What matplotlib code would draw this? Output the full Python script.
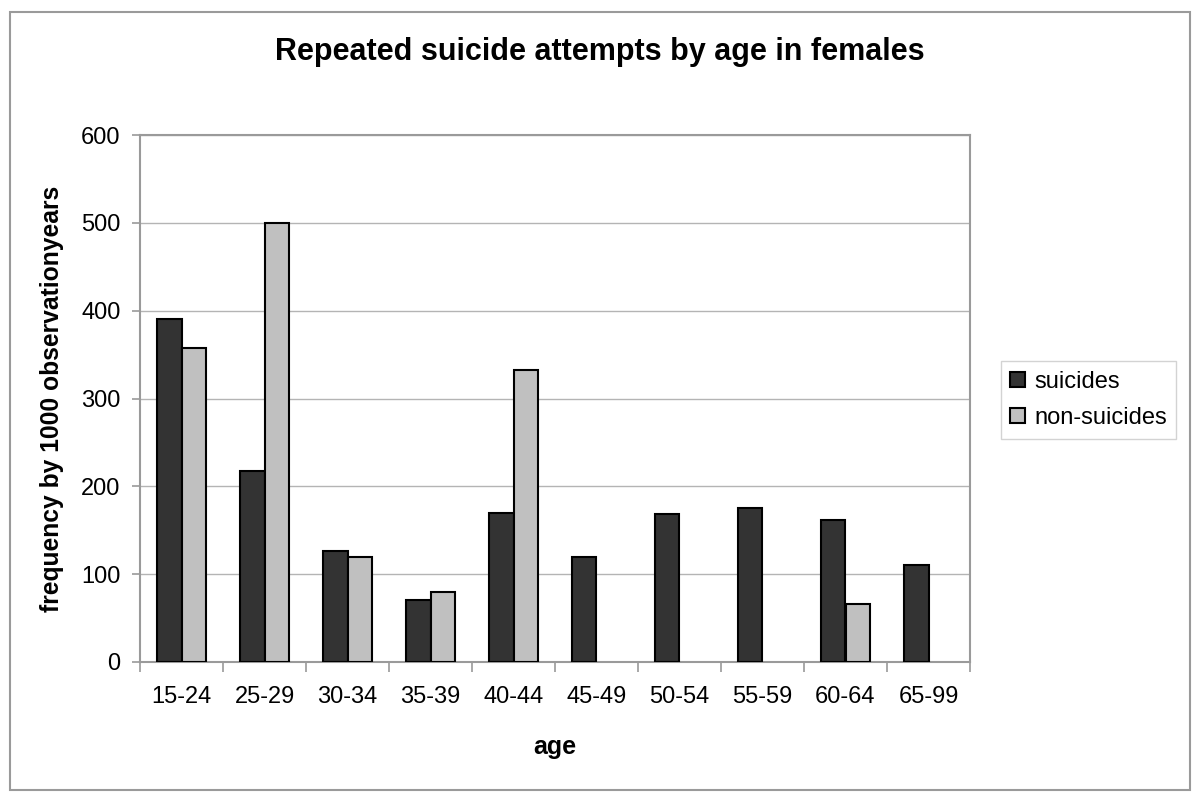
import numpy as np
import matplotlib.pyplot as plt
from matplotlib.patches import Rectangle

plt.rcParams["font.family"] = ["Liberation Sans", "DejaVu Sans"]

# Dados
faixas = ["15-24", "25-29", "30-34", "35-39", "40-44",
          "45-49", "50-54", "55-59", "60-64", "65-99"]
suicidas = [390, 218, 126, 71, 170, 119, 168, 175, 162, 110]
nao_suicidas = [358, 500, 120, 80, 333, 0, 0, 0, 66, 0]

cor_escura = "#333333"
cor_clara = "#c0c0c0"
cinza = "#9a9a9a"

fig = plt.figure(figsize=(12, 8), dpi=100)
ax = fig.add_axes([140 / 1200, 1 - 662 / 800, 830 / 1200, 527 / 800])

x = np.arange(len(faixas))
largura = 0.3
# sem contorno quando o valor é zero (Excel não desenha nada)
lw_s = [1.5 if v > 0 else 0 for v in suicidas]
lw_n = [1.5 if v > 0 else 0 for v in nao_suicidas]
ax.bar(x - largura / 2, suicidas, largura, color=cor_escura,
       edgecolor="black", linewidth=lw_s, label="suicides", zorder=3)
ax.bar(x + largura / 2, nao_suicidas, largura, color=cor_clara,
       edgecolor="black", linewidth=lw_n, label="non-suicides", zorder=3)

ax.set_xlim(-0.5, len(faixas) - 0.5)
ax.set_ylim(0, 600)
ax.set_yticks(range(0, 601, 100))
ax.set_xticks(x)
ax.set_xticklabels(faixas)
ax.set_xticks(np.arange(-0.5, len(faixas), 1.0), minor=True)
ax.tick_params(axis="x", which="major", length=0, pad=17, labelsize=17)
ax.tick_params(axis="x", which="minor", length=7, color=cinza, width=1.2)
ax.tick_params(axis="y", length=6, color=cinza, width=1.2, labelsize=17, pad=8)

ax.grid(axis="y", color="#b4b4b4", linewidth=1.0, zorder=0)
for lado in ["left", "bottom", "top", "right"]:
    ax.spines[lado].set_color(cinza)
    ax.spines[lado].set_linewidth(1.5)

ax.set_xlabel("age", fontsize=18, fontweight="bold", labelpad=20)
ax.set_ylabel("frequency by 1000 observationyears", fontsize=17.7,
              fontweight="bold", labelpad=12)
fig.text(0.5, 1 - 52 / 800, "Repeated suicide attempts by age in females",
         ha="center", va="center", fontsize=22, fontweight="bold")

fig.legend(loc="center left", bbox_to_anchor=(1001 / 1200, 1 - 400 / 800),
           fontsize=17, frameon=True, fancybox=False, edgecolor="#c8c8c8",
           handlelength=0.6, handleheight=0.6, handletextpad=0.4,
           borderpad=0.4, labelspacing=0.6, borderaxespad=0)

# Moldura externa
fig.patches.append(Rectangle((10 / 1200, 10 / 800), 1180 / 1200, 778 / 800,
                             transform=fig.transFigure, fill=False,
                             edgecolor=cinza, linewidth=1.5))

plt.savefig("out.png", dpi=100)
plt.close()
